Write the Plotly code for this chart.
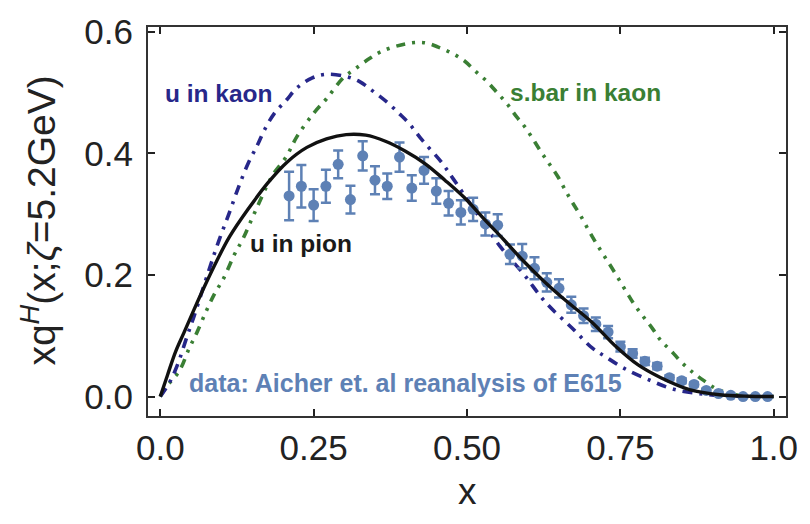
import plotly.graph_objects as go

# ---- data: Aicher et al. reanalysis of E615 ----
data_x = [0.21, 0.23, 0.25, 0.27, 0.29, 0.31, 0.33, 0.35, 0.37, 0.39,
          0.41, 0.43, 0.45, 0.47, 0.49, 0.51, 0.53, 0.55, 0.57, 0.59,
          0.61, 0.63, 0.65, 0.67, 0.69, 0.71, 0.73, 0.75, 0.77, 0.79,
          0.81, 0.83, 0.85, 0.87, 0.89, 0.91, 0.93, 0.95, 0.97, 0.99]
data_y = [0.330, 0.346, 0.315, 0.346, 0.382, 0.324, 0.396, 0.356, 0.346, 0.394,
          0.343, 0.372, 0.338, 0.318, 0.303, 0.308, 0.284, 0.282, 0.234, 0.231,
          0.211, 0.188, 0.178, 0.151, 0.133, 0.119, 0.106, 0.082, 0.071, 0.058,
          0.050, 0.031, 0.026, 0.020, 0.010, 0.005, 0.002, 0.000, 0.000, 0.000]
data_err = [0.040, 0.035, 0.026, 0.027, 0.023, 0.023, 0.024, 0.023, 0.021, 0.024,
            0.021, 0.022, 0.021, 0.020, 0.020, 0.019, 0.019, 0.018, 0.016, 0.020,
            0.018, 0.015, 0.015, 0.013, 0.012, 0.011, 0.010, 0.008, 0.007, 0.006,
            0.005, 0.004, 0.004, 0.003, 0.003, 0.002, 0.002, 0.001, 0.001, 0.001]

# ---- u in pion (solid black) ----
pion_x = [0.0, 0.012, 0.025, 0.039, 0.055, 0.073, 0.092, 0.113, 0.143, 0.175,
          0.207, 0.239, 0.271, 0.303, 0.335, 0.367, 0.399, 0.432, 0.464, 0.496,
          0.528, 0.560, 0.592, 0.624, 0.656, 0.704, 0.741, 0.779, 0.816, 0.864,
          0.912, 0.96, 1.0]
pion_y = [0.0, 0.036, 0.074, 0.106, 0.143, 0.183, 0.223, 0.263, 0.308, 0.351,
          0.386, 0.410, 0.424, 0.431, 0.430, 0.420, 0.404, 0.383, 0.356, 0.327,
          0.292, 0.258, 0.223, 0.191, 0.162, 0.122, 0.084, 0.052, 0.031, 0.011,
          0.003, 0.0005, 0.0]

# ---- u in kaon (navy dot-dashed) ----
ukaon_x = [0.0, 0.015, 0.028, 0.044, 0.055, 0.079, 0.095, 0.111, 0.127, 0.143,
           0.159, 0.170, 0.186, 0.205, 0.223, 0.247, 0.269, 0.301, 0.325, 0.346,
           0.370, 0.389, 0.405, 0.426, 0.458, 0.477, 0.554, 0.592, 0.629, 0.672,
           0.704, 0.725, 0.757, 0.800, 0.837, 0.885, 0.94, 1.0]
ukaon_y = [0.0, 0.023, 0.052, 0.100, 0.132, 0.207, 0.255, 0.298, 0.343, 0.383,
           0.415, 0.439, 0.466, 0.487, 0.508, 0.524, 0.530, 0.527, 0.518, 0.503,
           0.484, 0.466, 0.450, 0.423, 0.386, 0.359, 0.247, 0.202, 0.154, 0.112,
           0.080, 0.066, 0.046, 0.026, 0.012, 0.004, 0.0005, 0.0]

# ---- s.bar in kaon (green dot-dot-dashed) ----
sbar_x = [0.0, 0.009, 0.031, 0.047, 0.060, 0.076, 0.089, 0.103, 0.121, 0.135,
          0.154, 0.183, 0.205, 0.223, 0.250, 0.271, 0.298, 0.319, 0.341, 0.359,
          0.383, 0.410, 0.432, 0.453, 0.477, 0.496, 0.514, 0.533, 0.549, 0.565,
          0.581, 0.594, 0.608, 0.621, 0.634, 0.648, 0.661, 0.672, 0.685, 0.698,
          0.709, 0.722, 0.736, 0.760, 0.773, 0.787, 0.803, 0.816, 0.832, 0.851,
          0.869, 0.885, 0.91, 0.95, 1.0]
sbar_y = [0.0, 0.015, 0.042, 0.079, 0.106, 0.143, 0.170, 0.194, 0.234, 0.260,
          0.303, 0.364, 0.394, 0.428, 0.466, 0.490, 0.524, 0.540, 0.556, 0.567,
          0.576, 0.582, 0.582, 0.575, 0.564, 0.552, 0.535, 0.518, 0.500, 0.482,
          0.460, 0.444, 0.423, 0.402, 0.383, 0.362, 0.338, 0.319, 0.298, 0.274,
          0.255, 0.234, 0.212, 0.172, 0.151, 0.132, 0.111, 0.092, 0.076, 0.055,
          0.039, 0.027, 0.011, 0.001, 0.0]

x_ticks = [0.0, 0.25, 0.5, 0.75, 1.0]
x_ticklabels = ["0.0", "0.25", "0.50", "0.75", "1.0"]
y_ticks = [0.0, 0.2, 0.4, 0.6]
y_ticklabels = ["0.0", "0.2", "0.4", "0.6"]

DATA_COL = "#5e81b5"
NAVY = "#27278a"
GREEN = "#3a7f34"

fig = go.Figure()

fig.add_trace(go.Scatter(
    x=sbar_x, y=sbar_y, mode="lines", line_shape="spline",
    line=dict(color=GREEN, width=3.6, dash="9px,7px,3px,7px,3px,7px"),
    hoverinfo="skip", showlegend=False))
fig.add_trace(go.Scatter(
    x=ukaon_x, y=ukaon_y, mode="lines", line_shape="spline",
    line=dict(color=NAVY, width=3.6, dash="10px,7px,3px,7px"),
    hoverinfo="skip", showlegend=False))
fig.add_trace(go.Scatter(
    x=data_x, y=data_y, mode="markers",
    marker=dict(color=DATA_COL, size=11),
    error_y=dict(type="data", array=data_err, color=DATA_COL, thickness=2.5, width=5),
    showlegend=False))
fig.add_trace(go.Scatter(
    x=pion_x, y=pion_y, mode="lines", line_shape="spline",
    line=dict(color="#111111", width=3.4),
    hoverinfo="skip", showlegend=False))

W, H = 810, 524
L, R, T, B = 148, 12, 16, 108
pw, ph = W - L - R, H - T - B

def px(xp):
    return (xp - L) / pw

def py(yp):
    return (H - B - yp) / ph

ann_font = "Liberation Sans"
annotations = [
    dict(text="<b>u in kaon</b>", x=px(163), y=py(84), xanchor="left", yanchor="middle",
         font=dict(family=ann_font, size=24.5, color=NAVY)),
    dict(text="<b>s.bar in kaon</b>", x=px(515), y=py(83), xanchor="left", yanchor="middle",
         font=dict(family=ann_font, size=24.5, color=GREEN)),
    dict(text="<b>u in pion</b>", x=px(250), y=py(239), xanchor="left", yanchor="middle",
         font=dict(family=ann_font, size=24.5, color="#1a1a1a")),
    dict(text="<b>data: Aicher et. al reanalysis of E615</b>", x=px(188), y=py(382),
         xanchor="left", yanchor="middle",
         font=dict(family=ann_font, size=25, color=DATA_COL)),
    dict(text="xq<sup><i>H</i></sup>(x;<i>ζ</i>=5.2GeV)", x=px(36), y=py(215),
         xanchor="center", yanchor="middle", textangle=-90,
         font=dict(family=ann_font, size=39, color="#222222")),
    dict(text="x", x=px(473), y=py(494), xanchor="center", yanchor="middle",
         font=dict(family=ann_font, size=37, color="#222222")),
]
for a in annotations:
    a.update(xref="paper", yref="paper", showarrow=False)

fig.update_layout(
    width=W, height=H,
    margin=dict(l=L, r=R, t=T, b=B, pad=0),
    paper_bgcolor="white", plot_bgcolor="white",
    showlegend=False,
    annotations=annotations,
    xaxis=dict(range=[-0.02, 1.02], tickvals=x_ticks, ticktext=x_ticklabels,
               ticks="inside", ticklen=7, tickwidth=1.5, tickcolor="#222",
               showline=True, linecolor="#333", linewidth=2, mirror="allticks",
               showgrid=False, zeroline=False,
               tickfont=dict(family=ann_font, size=35, color="#222"),
               ticklabelstandoff=0),
    yaxis=dict(range=[-0.032, 0.608], tickvals=y_ticks, ticktext=y_ticklabels,
               ticks="inside", ticklen=7, tickwidth=1.5, tickcolor="#222",
               showline=True, linecolor="#333", linewidth=2, mirror="allticks",
               showgrid=False, zeroline=False,
               tickfont=dict(family=ann_font, size=35, color="#222"),
               ticklabelstandoff=6),
)

fig.write_html("out.html")
